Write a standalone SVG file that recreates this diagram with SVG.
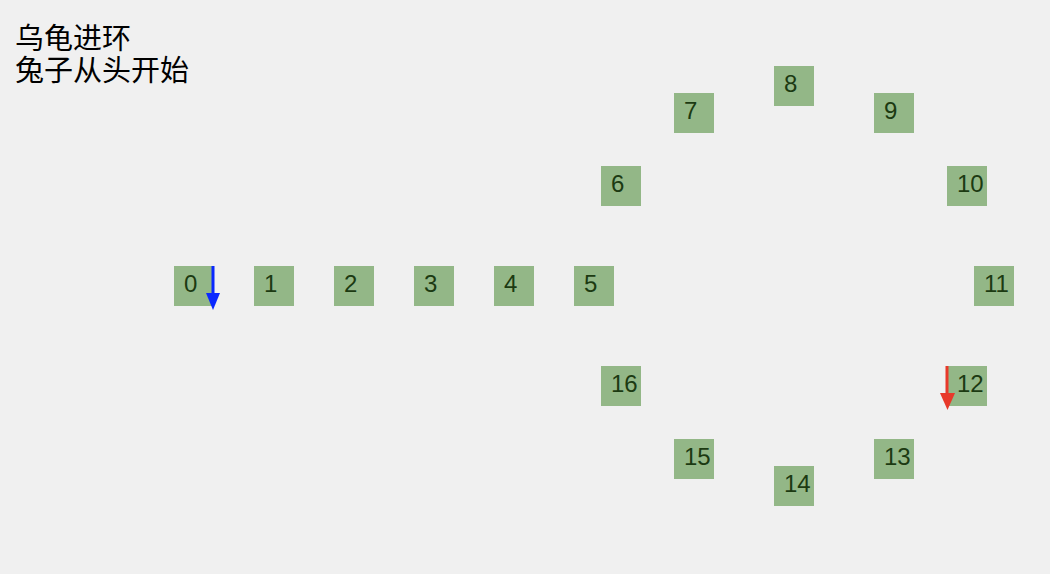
<svg xmlns="http://www.w3.org/2000/svg" width="1050" height="574" viewBox="0 0 1050 574">
<style>
.bg{fill:#f0f0f0}
.box{fill:#93b787}
.lbl{font-family:"Liberation Sans",Arial,sans-serif;font-size:24px;fill:#1c3a12}
.title{font-family:"Liberation Sans","Noto Sans CJK SC",sans-serif;font-size:29px;fill:#000}
</style>
<rect class="bg" x="0" y="0" width="1050" height="574"/>
<text class="title" x="15" y="49">乌龟进环</text>
<text class="title" x="15" y="81">兔子从头开始</text>
<g id="n0"><rect class="box" x="174" y="266" width="40" height="40"/><text class="lbl" x="184" y="292">0</text></g>
<g id="n1"><rect class="box" x="254" y="266" width="40" height="40"/><text class="lbl" x="264" y="292">1</text></g>
<g id="n2"><rect class="box" x="334" y="266" width="40" height="40"/><text class="lbl" x="344" y="292">2</text></g>
<g id="n3"><rect class="box" x="414" y="266" width="40" height="40"/><text class="lbl" x="424" y="292">3</text></g>
<g id="n4"><rect class="box" x="494" y="266" width="40" height="40"/><text class="lbl" x="504" y="292">4</text></g>
<g id="n5"><rect class="box" x="574" y="266" width="40" height="40"/><text class="lbl" x="584" y="292">5</text></g>
<g id="n6"><rect class="box" x="601" y="166" width="40" height="40"/><text class="lbl" x="611" y="192">6</text></g>
<g id="n7"><rect class="box" x="674" y="93" width="40" height="40"/><text class="lbl" x="684" y="119">7</text></g>
<g id="n8"><rect class="box" x="774" y="66" width="40" height="40"/><text class="lbl" x="784" y="92">8</text></g>
<g id="n9"><rect class="box" x="874" y="93" width="40" height="40"/><text class="lbl" x="884" y="119">9</text></g>
<g id="n10"><rect class="box" x="947" y="166" width="40" height="40"/><text class="lbl" x="957" y="192">10</text></g>
<g id="n11"><rect class="box" x="974" y="266" width="40" height="40"/><text class="lbl" x="984" y="292">11</text></g>
<g id="n12"><rect class="box" x="947" y="366" width="40" height="40"/><text class="lbl" x="957" y="392">12</text></g>
<g id="n13"><rect class="box" x="874" y="439" width="40" height="40"/><text class="lbl" x="884" y="465">13</text></g>
<g id="n14"><rect class="box" x="774" y="466" width="40" height="40"/><text class="lbl" x="784" y="492">14</text></g>
<g id="n15"><rect class="box" x="674" y="439" width="40" height="40"/><text class="lbl" x="684" y="465">15</text></g>
<g id="n16"><rect class="box" x="601" y="366" width="40" height="40"/><text class="lbl" x="611" y="392">16</text></g>
<g id="connectors">
<line x1="213" y1="266" x2="213" y2="294" stroke="#0a28ff" stroke-width="3"/>
<path d="M206,293 L220,293 L213,310 Z" fill="#0a28ff"/>
<line x1="947" y1="366" x2="947" y2="394" stroke="#e8392a" stroke-width="3"/>
<path d="M940,393 L955,393 L947.5,410 Z" fill="#e8392a"/>
</g>
</svg>
